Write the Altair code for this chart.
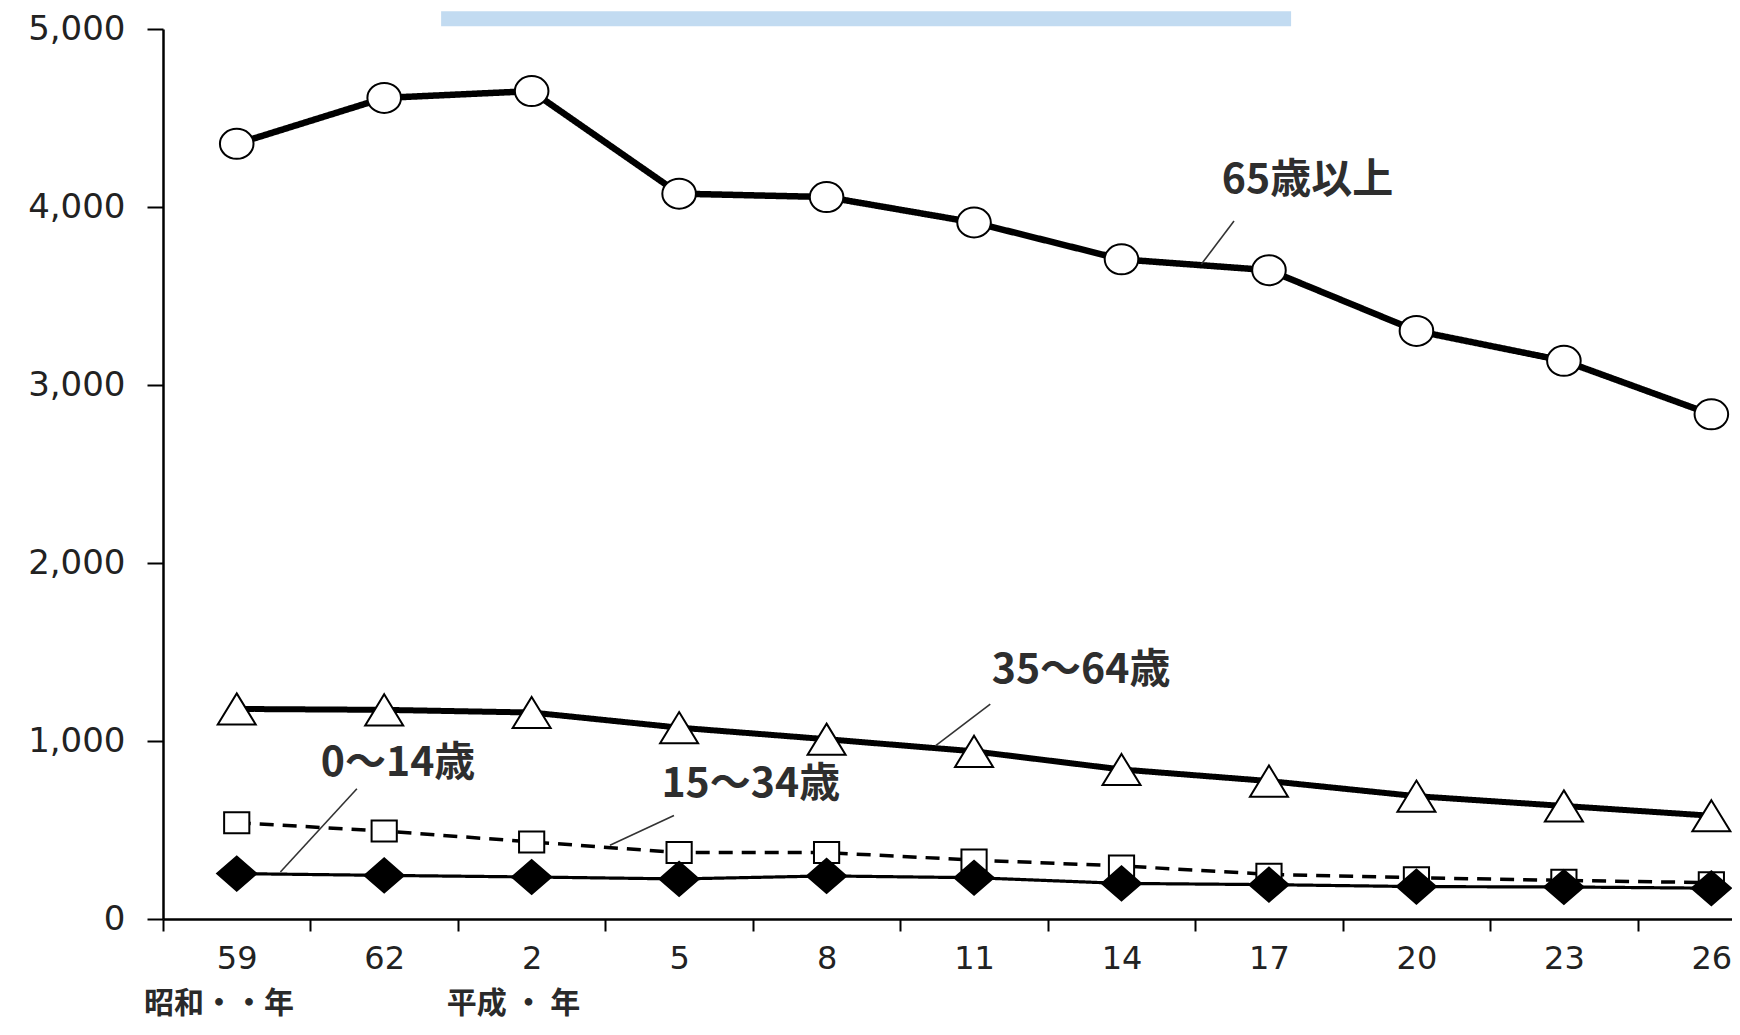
import json
import altair as alt
import pandas as pd

# ---- data ----
years = ["59", "62", "2", "5", "8", "11", "14", "17", "20", "23", "26"]
age65_over = [4355, 4613, 4651, 4075, 4056, 3913, 3706, 3645, 3304, 3136, 2835]
age35_64 = [1180, 1175, 1160, 1075, 1010, 942, 840, 775, 690, 635, 580]
age15_34 = [541, 494, 433, 373, 373, 331, 298, 251, 232, 217, 204]
age0_14 = [255, 245, 236, 225, 242, 232, 200, 193, 182, 180, 173]

series_names = ["65歳以上", "35～64歳", "15～34歳", "0～14歳"]
series_values = [age65_over, age35_64, age15_34, age0_14]

# annotation labels (category index / value positions)
label_text = ["65歳以上", "35～64歳", "0～14歳", "15～34歳"]
label_idx = [6.68, 5.12, 0.57, 2.88]
label_val = [4146, 1391, 869, 751]

leader_idx = [6.763, 5.11, 0.815, 2.965]
leader_val = [3921, 1207, 732, 582]
leader_idx2 = [6.541, 4.74, 0.296, 2.531]
leader_val2 = [3678, 974, 264, 414]

era_text = ["昭和・・年", "平成 ・ 年"]
era_idx = [-0.12, 1.877]
era_val = [-478, -478]

band_idx = [1.386]
band_idx2 = [7.15]
band_val = [5016]
band_val2 = [5100]

# ---- tables ----
rows = []
for name, vals in zip(series_names, series_values):
    for i, v in enumerate(vals):
        rows.append({"idx": i, "val": v, "series": name})
df = pd.DataFrame(rows)

labels_df = pd.DataFrame({"idx": label_idx, "val": label_val, "text": label_text})
leaders_df = pd.DataFrame({"idx": leader_idx, "val": leader_val,
                           "idx2": leader_idx2, "val2": leader_val2})
era_df = pd.DataFrame({"idx": era_idx, "val": era_val, "text": era_text})
band_df = pd.DataFrame({"idx": band_idx, "idx2": band_idx2,
                        "val": band_val, "val2": band_val2})

# ---- scales / axes ----
tick_vals = sorted([i - 0.5 for i in range(len(years))] + list(range(len(years))))
label_expr = "datum.value % 1 === 0 ? " + json.dumps(years) + "[datum.value] : ''"

x_axis = alt.Axis(
    values=tick_vals,
    labelExpr=label_expr,
    grid=False,
    domainColor="black",
    domainWidth=2.5,
    tickColor="black",
    tickWidth=2,
    tickSize=12,
    tickOpacity={"condition": {"test": "datum.value % 1 === 0", "value": 0}, "value": 1},
    labelFont="DejaVu Sans",
    labelFontSize=32,
    labelColor="#222222",
    labelPadding=12,
    labelFlush=False,
    labelOverlap=False,
    labelBound=False,
    title=None,
)
y_axis = alt.Axis(
    values=[0, 1000, 2000, 3000, 4000, 5000],
    format=",d",
    grid=False,
    domainColor="black",
    domainWidth=2.5,
    tickColor="black",
    tickWidth=2,
    tickSize=16,
    labelFont="DejaVu Sans",
    labelFontSize=34,
    labelColor="#222222",
    labelPadding=22,
    labelFlush=False,
    labelOverlap=False,
    title=None,
)

xs = alt.Scale(domain=[-0.5, 10.14], nice=False, zero=False)
ys = alt.Scale(domain=[0, 5000], nice=False, zero=True)

X = alt.X("idx:Q", scale=xs, axis=x_axis, title=None)
Y = alt.Y("val:Q", scale=ys, axis=y_axis, title=None)

ellipse = "M-1.12,0A1.12,1,0,1,0,1.12,0A1.12,1,0,1,0,-1.12,0Z"
triangle = "M0,-0.82L1,0.82L-1,0.82Z"
rectangle = "M-1.2,-1L1.2,-1L1.2,1L-1.2,1Z"
diamond = "M-1.15,0L0,-1L1.15,0L0,1Z"

styles = {
    "65歳以上": dict(width=6.5, dash=[1, 0], shape=ellipse, size=900, fill="white"),
    "35～64歳": dict(width=6, dash=[1, 0], shape=triangle, size=1444, fill="white"),
    "15～34歳": dict(width=3.5, dash=[14, 9], shape=rectangle, size=441, fill="white"),
    "0～14歳": dict(width=3.2, dash=[1, 0], shape=diamond, size=1156, fill="black"),
}

layers = []
band = alt.Chart(band_df).mark_rect(color="#c2dbf1").encode(
    x=X, x2="idx2:Q", y=Y, y2="val2:Q"
)
layers.append(band)

for name in series_names:
    st = styles[name]
    sub = df[df["series"] == name]
    line = alt.Chart(sub).mark_line(
        color="black", strokeWidth=st["width"], strokeDash=st["dash"]
    ).encode(x=X, y=Y)
    layers.append(line)
for name in series_names:
    st = styles[name]
    sub = df[df["series"] == name]
    pts = alt.Chart(sub).mark_point(
        shape=st["shape"], size=st["size"], filled=True,
        fill=st["fill"], stroke="black", strokeWidth=2, opacity=1
    ).encode(x=X, y=Y)
    layers.append(pts)

leaders = alt.Chart(leaders_df).mark_rule(color="#333333", strokeWidth=1.6).encode(
    x=X, y=Y, x2="idx2:Q", y2="val2:Q"
)
labels = alt.Chart(labels_df).mark_text(
    align="left", baseline="middle", font="Noto Sans CJK JP",
    fontSize=41, fontWeight="bold", color="#2e2e2e"
).encode(x=X, y=Y, text="text:N")
eras = alt.Chart(era_df).mark_text(
    align="center", baseline="middle", font="Noto Sans CJK JP",
    fontSize=30, color="#2a2a2a", fontWeight="bold"
).encode(x=X, y=Y, text="text:N")

layers += [leaders, labels, eras]

chart = alt.layer(*layers).properties(
    width=1569,
    height=890,
    autosize=alt.AutoSizeParams(type="none"),
    padding={"left": 155, "top": 21, "right": 0, "bottom": 104},
    background="white",
).configure_view(stroke=None)

chart.save("out.html", embed_options={"renderer": "svg", "actions": False})
